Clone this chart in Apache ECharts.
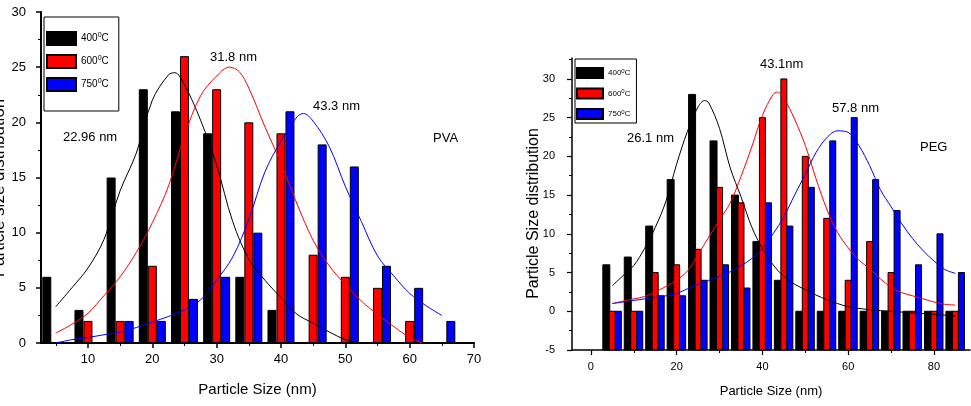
<!DOCTYPE html>
<html>
<head>
<meta charset="utf-8">
<script src="https://cdn.jsdelivr.net/npm/echarts@6/dist/echarts.min.js"></script>
<style>html,body{margin:0;padding:0;background:#fff}#c{width:971px;height:406px}</style>
</head>
<body>
<div id="c"></div>
<script>
// ---------- data ----------
const seriesNames = ['400°C', '600°C', '750°C'];

// PVA panel (left)
const pvaGroups = [5, 10, 15, 20, 25, 30, 35, 40, 45, 50, 55, 60, 65];
const pva400 = [6, 3, 15, 23, 21, 19, 6, 3, null, null, null, null, null];
const pva600 = [null, 2, 2, 7, 26, 23, 20, 19, 8, 6, 5, 2, null];
const pva750 = [null, null, 2, 2, 4, 6, 10, 21, 18, 16, 7, 5, 2];

const pvaFit400X = [5, 7.5, 10, 12.5, 15, 17.5, 20, 22.5, 23.5, 25, 27.5, 30, 32.5, 35, 37.5, 40, 42.5, 45, 47.5, 50, 52];
const pvaFit400Y = [3.3, 5.0, 6.8, 9.4, 13.8, 17.2, 22.0, 24.3, 24.5, 23.4, 20.2, 16.1, 11.0, 7.6, 5.7, 4.1, 2.6, 1.8, 1.0, 0.3, 0];
const pvaFit600X = [5, 7.5, 10, 12.5, 15, 17.5, 20, 22.5, 25, 27.5, 30, 32, 33.5, 35, 37.5, 40, 42.5, 45, 47.5, 50, 52.5, 55, 57.5, 60, 62];
const pvaFit600Y = [0.9, 1.7, 2.7, 4.3, 6.0, 8.2, 10.9, 14.2, 18.8, 22.4, 24.2, 25.0, 24.6, 23.1, 19.6, 16.3, 12.6, 9.3, 7.0, 5.3, 3.8, 2.6, 1.5, 0.5, 0];
const pvaFit750X = [5, 7.5, 10, 12.5, 15, 17.5, 20, 22.5, 25, 27.5, 30, 32.5, 35, 37.5, 40, 42.5, 43.5, 45, 47.5, 50, 52.5, 55, 57.5, 60, 62.5, 65];
const pvaFit750Y = [0, 0.3, 0.5, 0.75, 1.0, 1.4, 1.9, 2.4, 3.0, 3.9, 5.7, 7.8, 11.2, 15.5, 18.3, 20.5, 20.8, 20.1, 17.8, 14.2, 11.0, 7.9, 6.1, 4.5, 3.4, 2.5];

// PEG panel (right)
const pegGroups = [5, 10, 15, 20, 25, 30, 35, 40, 45, 50, 55, 60, 65, 70, 75, 80, 85];
const peg400 = [6, 7, 11, 17, 28, 22, 15, 9, 4, 0, 0, 0, 0, 0, 0, 0, 0];
const peg600 = [0, 0, 5, 6, 8, 16, 14, 25, 30, 20, 12, 4, 9, 5, 0, 0, 0];
const peg750 = [0, 0, 2, 2, 4, 6, 3, 14, 11, 16, 22, 25, 17, 13, 6, 10, 5];
const pegBarBase = -5; // bars in this panel rise from the bottom of the axis

const pegFit400X = [5, 7.5, 10, 12.5, 15, 17.5, 20, 22.5, 25, 26.5, 27.5, 30, 32.5, 35, 37.5, 40, 42.5, 45, 47.5, 50, 52.5, 55, 57.5, 60, 65, 70, 75, 80, 85];
const pegFit400Y = [3.3, 4.6, 5.9, 8.1, 10.8, 14.2, 19.0, 23.2, 26.4, 27.2, 26.9, 23.6, 18.5, 14.8, 10.9, 8.1, 6.0, 4.5, 3.5, 2.8, 2.1, 1.5, 1.0, 0.6, 0.2, 0, -0.2, -0.4, -0.6];
const pegFit600X = [5, 7.5, 10, 12.5, 15, 17.5, 20, 22.5, 25, 27.5, 30, 32.5, 35, 37.5, 40, 42.5, 43.5, 45, 47.5, 50, 52.5, 55, 57.5, 60, 62.5, 65, 67.5, 70, 72.5, 75, 77.5, 80, 82.5, 85];
const pegFit600Y = [1.0, 1.3, 1.6, 1.9, 2.5, 3.2, 4.0, 5.2, 7.3, 9.6, 11.8, 14.0, 17.4, 21.2, 25.3, 28.0, 28.3, 27.5, 24.8, 21.4, 17.1, 13.2, 10.2, 8.2, 6.6, 5.5, 4.2, 3.1, 2.4, 2.0, 1.6, 1.2, 0.9, 0.8];
const pegFit750X = [5, 7.5, 10, 12.5, 15, 17.5, 20, 22.5, 25, 27.5, 30, 32.5, 35, 37.5, 40, 42.5, 45, 47.5, 50, 52.5, 55, 57.5, 60, 62.5, 65, 67.5, 70, 72.5, 75, 77.5, 80, 82.5, 85];
const pegFit750Y = [1.0, 1.2, 1.4, 1.6, 1.8, 2.0, 2.3, 2.9, 3.5, 4.0, 4.5, 5.1, 5.9, 6.8, 8.2, 10.0, 12.2, 15.0, 17.7, 20.5, 22.4, 23.3, 23.1, 21.4, 18.8, 15.7, 13.5, 11.3, 9.4, 7.8, 6.5, 5.4, 4.9];

// tick values
const pvaXTicks = [10, 20, 30, 40, 50, 60, 70];
const pvaXMinorTicks = [5, 15, 25, 35, 45, 55, 65];
const pegXTicks = [0, 20, 40, 60, 80];
const pegXMinorTicks = [10, 30, 50, 70];
const pegYTicks = [-5, 0, 5, 10, 15, 20, 25, 30];
const pegYMinorTicks = [-2.5, 2.5, 7.5, 12.5, 17.5, 22.5, 27.5, 32.5];

// annotation texts
const pvaPeakLabels = ['22.96 nm', '31.8 nm', '43.3 nm'];
const pvaPanelLabel = 'PVA';
const pegPeakLabels = ['26.1 nm', '43.1nm', '57.8 nm'];
const pegPanelLabel = 'PEG';
const xTitle = 'Particle Size (nm)';
const pvaYTitle = 'Particle size distribution';
const pegYTitle = 'Particle Size distribution';

// ---------- build ----------
const FONT = '"Liberation Sans", Arial, sans-serif';
const colors = ['#000000', '#ff0000', '#0000ff'];
const pair = (xs, ys) => xs.map((x, i) => [x, ys[i] == null ? '-' : ys[i]]);

function barSeries(name, xi, yi, groups, vals, color, w) {
  return {
    type: 'bar', name: name, xAxisIndex: xi, yAxisIndex: yi,
    data: pair(groups, vals), barWidth: w, barGap: '0%',
    itemStyle: { color: color, borderColor: '#000', borderWidth: 1 },
    animation: false, z: 2
  };
}
// PEG bars: drawn from the axis bottom (pegBarBase) up to the value, via the axis scales
function pegBarSeries(name, vals, color, offsetPx, widthPx) {
  return {
    type: 'custom', name: name, xAxisIndex: 1, yAxisIndex: 1,
    data: pair(pegGroups, vals),
    encode: { x: 0, y: 1 },
    itemStyle: { color: color, borderColor: '#000', borderWidth: 1 },
    renderItem: function (params, api) {
      const x = api.value(0), v = api.value(1);
      const top = api.coord([x, v]);
      const bot = api.coord([x, pegBarBase]);
      return {
        type: 'rect',
        shape: { x: top[0] + offsetPx - widthPx / 2, y: top[1], width: widthPx, height: bot[1] - top[1] },
        style: { fill: color, stroke: '#000', lineWidth: 1 }
      };
    },
    animation: false, z: 2
  };
}
function lineSeries(name, xi, yi, xs, ys, color) {
  return {
    type: 'line', name: name, xAxisIndex: xi, yAxisIndex: yi,
    data: pair(xs, ys), showSymbol: false, symbol: 'none', smooth: 0.35,
    lineStyle: { color: color, width: 1 }, itemStyle: { color: color },
    animation: false, z: 5
  };
}
const legendFmt = n => n.replace('°', '{s|0}');

function annot(text, x, y, size) {
  return { type: 'text', x: x, y: y, z: 100,
    style: { text: text, font: size + 'px ' + FONT, fill: '#000', verticalAlign: 'middle', align: 'left' } };
}

const axisCommon = {
  axisLine: { show: true, onZero: false, lineStyle: { color: '#000', width: 2 } },
  splitLine: { show: false }
};

const option = {
  backgroundColor: '#fff',
  textStyle: { fontFamily: FONT },
  grid: [
    { left: 41, top: 12, width: 433, height: 331, outerBoundsMode: 'none', containLabel: false },
    { left: 572, top: 58, width: 398, height: 292, outerBoundsMode: 'none', containLabel: false }
  ],
  legend: [
    { orient: 'vertical', left: 44, top: 17, data: seriesNames, icon: 'rect',
      itemWidth: 29, itemHeight: 13, itemGap: 8, padding: [14, 10, 19, 2],
      borderColor: '#000', borderWidth: 1, selectedMode: false, formatter: legendFmt,
      textStyle: { fontSize: 10, color: '#000', fontFamily: FONT, lineHeight: 13,
        rich: { s: { fontSize: 7, verticalAlign: 'top', lineHeight: 13, padding: [0, 0, 6, 0] } } } },
    { orient: 'vertical', left: 575, top: 59, data: seriesNames, icon: 'rect',
      itemWidth: 26, itemHeight: 10, itemGap: 8.5, padding: [8, 6, 3, 1],
      borderColor: '#000', borderWidth: 1, selectedMode: false, formatter: legendFmt,
      textStyle: { fontSize: 8, color: '#000', fontFamily: FONT, lineHeight: 10,
        rich: { s: { fontSize: 6, verticalAlign: 'top', lineHeight: 10, padding: [0, 0, 5, 0] } } } }
  ],
  xAxis: [
    Object.assign({}, axisCommon, {
      type: 'value', gridIndex: 0, position: 'bottom', min: 2.7, max: 70,
      axisTick: { show: true, customValues: pvaXTicks, length: 5, lineStyle: { color: '#000', width: 1.5 } },
      axisLabel: { customValues: pvaXTicks, fontSize: 13, color: '#000', margin: 10, fontFamily: FONT },
      name: xTitle, nameLocation: 'middle', nameGap: 39, nameMoveOverlap: false,
      nameTextStyle: { fontSize: 15, color: '#000', fontFamily: FONT }
    }),
    Object.assign({}, axisCommon, {
      type: 'value', gridIndex: 1, position: 'bottom', min: -4.4, max: 88.4,
      axisLine: { show: true, onZero: false, lineStyle: { color: '#000', width: 1.5 } },
      axisTick: { show: true, customValues: pegXTicks, length: 5, lineStyle: { color: '#000', width: 1.2 } },
      axisLabel: { customValues: pegXTicks, fontSize: 11, color: '#000', margin: 11, fontFamily: FONT },
      name: xTitle, nameLocation: 'middle', nameGap: 35, nameMoveOverlap: false,
      nameTextStyle: { fontSize: 13, color: '#000', fontFamily: FONT }
    }),
    { type: 'value', gridIndex: 0, position: 'bottom', min: 2.7, max: 70,
      axisLine: { show: false, onZero: false }, splitLine: { show: false },
      axisTick: { show: true, customValues: pvaXMinorTicks, length: 3, lineStyle: { color: '#000', width: 1 } },
      axisLabel: { show: false } },
    { type: 'value', gridIndex: 1, position: 'bottom', min: -4.4, max: 88.4,
      axisLine: { show: false, onZero: false }, splitLine: { show: false },
      axisTick: { show: true, customValues: pegXMinorTicks, length: 3, lineStyle: { color: '#000', width: 1 } },
      axisLabel: { show: false } }
  ],
  yAxis: [
    Object.assign({}, axisCommon, {
      type: 'value', gridIndex: 0, position: 'left', min: 0, max: 30, interval: 5,
      axisTick: { show: true, length: 5, lineStyle: { color: '#000', width: 1.5 } },
      minorTick: { show: true, splitNumber: 2, length: 3, lineStyle: { color: '#000', width: 1 } },
      axisLabel: { fontSize: 13, color: '#000', margin: 15, fontFamily: FONT },
      name: pvaYTitle, nameLocation: 'middle', nameGap: 33, nameMoveOverlap: false,
      nameTextStyle: { fontSize: 17, color: '#000', fontFamily: FONT, padding: [0, 21, 0, 0] }
    }),
    Object.assign({}, axisCommon, {
      type: 'value', gridIndex: 1, position: 'left', min: -5, max: 32.7,
      axisLine: { show: true, onZero: false, lineStyle: { color: '#000', width: 1.5 } },
      axisTick: { show: true, customValues: pegYTicks, length: 5, lineStyle: { color: '#000', width: 1.2 } },
      axisLabel: { customValues: pegYTicks, fontSize: 11, color: '#000', margin: 17, fontFamily: FONT },
      name: pegYTitle, nameLocation: 'middle', nameGap: 30, nameMoveOverlap: false,
      nameTextStyle: { fontSize: 16, color: '#000', fontFamily: FONT, padding: [0, 19, 0, 0] }
    }),
    { type: 'value', gridIndex: 1, position: 'left', min: -5, max: 32.7,
      axisLine: { show: false, onZero: false }, splitLine: { show: false },
      axisTick: { show: true, customValues: pegYMinorTicks, length: 3, lineStyle: { color: '#000', width: 1 } },
      axisLabel: { show: false } }
  ],
  series: [
    barSeries(seriesNames[0], 0, 0, pvaGroups, pva400, colors[0], 9),
    barSeries(seriesNames[1], 0, 0, pvaGroups, pva600, colors[1], 9),
    barSeries(seriesNames[2], 0, 0, pvaGroups, pva750, colors[2], 9),
    pegBarSeries(seriesNames[0], peg400, colors[0], -6, 7),
    pegBarSeries(seriesNames[1], peg600, colors[1], 0, 6),
    pegBarSeries(seriesNames[2], peg750, colors[2], 6, 6),
    lineSeries('PVA fit 400', 0, 0, pvaFit400X, pvaFit400Y, colors[0]),
    lineSeries('PVA fit 600', 0, 0, pvaFit600X, pvaFit600Y, colors[1]),
    lineSeries('PVA fit 750', 0, 0, pvaFit750X, pvaFit750Y, colors[2]),
    lineSeries('PEG fit 400', 1, 1, pegFit400X, pegFit400Y, colors[0]),
    lineSeries('PEG fit 600', 1, 1, pegFit600X, pegFit600Y, colors[1]),
    lineSeries('PEG fit 750', 1, 1, pegFit750X, pegFit750Y, colors[2])
  ],
  graphic: [
    annot(pvaPeakLabels[0], 63, 137, 13),
    annot(pvaPeakLabels[1], 210, 57, 13),
    annot(pvaPeakLabels[2], 313, 106, 13),
    annot(pvaPanelLabel, 433, 138, 13),
    annot(pegPeakLabels[0], 627, 138, 13),
    annot(pegPeakLabels[1], 760, 64, 13),
    annot(pegPeakLabels[2], 832, 108, 13),
    annot(pegPanelLabel, 920, 147, 13)
  ]
};

const chart = echarts.init(document.getElementById('c'), null, { renderer: 'canvas' });
chart.setOption(option);
</script>
</body>
</html>
